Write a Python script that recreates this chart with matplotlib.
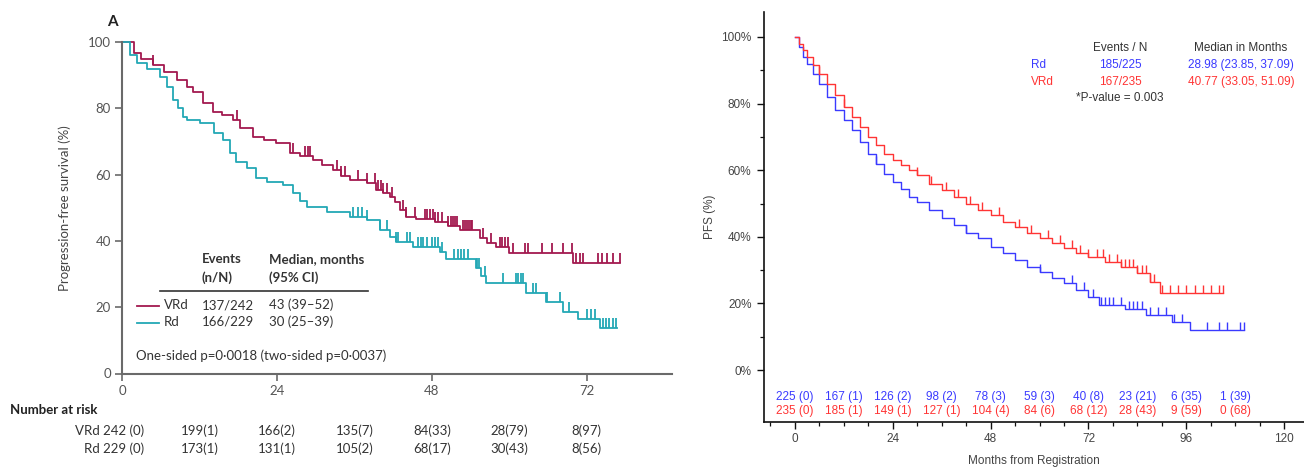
import numpy as np
import matplotlib
matplotlib.use('Agg')
import matplotlib.pyplot as plt
from matplotlib.transforms import blended_transform_factory

# ---- panel A (Lancet style): step knots (months, % event-free) ----
a_vrd_t = [0, 1.8, 3.0, 4.8, 6.5, 8.5, 10, 11, 12.6, 14.1, 15.5, 17.2, 18.3, 20.3, 22, 23.9,
           26, 27.5, 29.6, 31, 32.7, 34, 35.3, 37.9, 39.4, 40.5, 41.5, 42.3, 43, 44, 45.6,
           48.5, 50.5, 52.3, 55.4, 56.5, 58, 60, 69.8]
a_vrd_s = [100, 96.6, 95, 93.1, 91, 88.5, 86.5, 85, 81.6, 79, 78, 76.5, 74, 71.4, 70.5, 69.4,
           66.4, 65.5, 64.4, 63, 61.4, 59.5, 58.3, 57.4, 55.4, 54.5, 53.3, 51.8, 49.3, 47.3, 46.5,
           45.8, 44.5, 43.3, 40.8, 39.5, 38.3, 36.3, 33.2]
a_vrd_end = 77.2
a_vrd_cens = [4.8, 17.8, 26.5, 28.3, 28.8, 29.1, 33.3, 34, 34.5, 36.6, 37.9, 39.2, 39.6, 40.1,
              40.5, 41, 41.8, 43.5, 44, 45.4, 46.9, 47.3, 47.7, 48.1, 48.5, 48.9, 49.5, 50.5,
              50.9, 51.3, 51.6, 51.9, 52.8, 53.1, 53.4, 53.7, 54, 54.2, 55.9, 57.2, 58.5, 58.9,
              59.3, 59.8, 60.6, 62.5, 62.9, 65, 66.6, 68.3, 69.7, 70.4, 70.9, 71.4, 73.7, 74.3,
              75.1, 76, 77.1]

a_rd_t = [0, 1.2, 2.3, 3.8, 5.9, 6.9, 7.9, 8.7, 9.5, 10, 12.1, 14.2, 15.7, 16.7, 17.7, 19.3,
          20.8, 22.4, 25, 26.5, 27.5, 28.6, 31.7, 35.3, 37.9, 39.9, 41.5, 42.5, 45.1, 49.2,
          50.2, 54.9, 55.6, 56.4, 62.6, 65.7, 68.3, 70.6, 74]
a_rd_s = [100, 96, 93.6, 92, 89.5, 86.5, 82.5, 80, 77.5, 76.5, 75.5, 72.5, 70.4, 66.4, 63.9, 61.9,
          58.9, 57.9, 56.9, 54.4, 52, 50.3, 48.8, 47.3, 46.3, 43.3, 41.3, 39.8, 38.3, 36.7,
          34.4, 31.7, 29.5, 27.2, 24.2, 21.7, 18.6, 16.3, 13.6]
a_rd_end = 76.7
a_rd_cens = [35.8, 36.5, 37.2, 37.9, 39.9, 41, 42.5, 42.7, 44.1, 44.6, 45.8, 46.3, 46.7, 47.2,
             48, 48.5, 49, 49.5, 51.5, 52, 52.5, 53, 53.6, 55, 55.3, 56.2, 59, 61.1, 61.4, 61.8,
             62.1, 63.6, 64.2, 65.8, 67.8, 69.3, 72, 72.6, 73.2, 74.5, 75, 75.5, 76, 76.6]

a_risk_months = [12, 24, 36, 48, 60, 72]
a_risk_vrd = ['199(1)', '166(2)', '135(7)', '84(33)', '28(79)', '8(97)']
a_risk_rd = ['173(1)', '131(1)', '105(2)', '68(17)', '30(43)', '8(56)']

# ---- second panel: PFS by arm ----
b_rd_t = [0, 1, 2, 3, 4.5, 6, 8, 10, 12, 14, 16, 18, 20, 22, 24, 26, 28, 30, 33, 36, 39, 42,
          45, 48, 51, 54, 57, 60, 63, 66, 69, 72, 74.5, 81, 86, 92.4, 96.8]
b_rd_s = [100, 97, 94, 92, 89, 86, 82, 78, 75, 72, 68.5, 65, 62, 59, 56.5, 54.5, 52, 50.5, 48,
          45.5, 43.5, 41, 39.5, 37, 35, 33, 31, 29.5, 27.5, 26, 24, 22, 19.6, 18.3, 16.4, 14.5, 11.9]
b_rd_end = 110
b_rd_cens = [20, 42, 60, 68, 71, 73, 75, 76, 77, 78, 80, 82, 83, 84, 85, 87, 89, 91, 93, 95,
             101, 104, 106, 109, 110]

b_vrd_t = [0, 1, 2, 3, 4.5, 6, 8, 10, 12, 14, 16, 18, 20, 22, 24, 26, 28, 30, 33, 36, 39, 42,
           45, 48, 51, 54, 57, 60, 63, 66, 69, 72, 76, 80, 84, 87, 89.5]
b_vrd_s = [100, 98, 96, 94, 91.5, 89, 86, 82.5, 79, 76, 73, 70, 67.5, 65, 63, 61.5, 60, 58.5,
           56, 54, 52, 50, 48, 46.5, 44.5, 43, 41, 39.5, 38, 36.5, 35, 34, 32.5, 31, 29, 26.5, 23]
b_vrd_end = 105
b_vrd_cens = [6, 12, 30, 33.5, 37, 40, 43, 46, 50, 55, 58, 62, 65, 68, 70, 72, 74, 75.5, 77, 79,
              80, 81, 82, 83, 84, 85, 86, 87, 88, 90, 92, 94, 96, 98, 100, 102, 104, 105]

b_risk_months = [0, 12, 24, 36, 48, 60, 72, 84, 96, 108]
b_risk_rd = ['225 (0)', '167 (1)', '126 (2)', '98 (2)', '78 (3)', '59 (3)', '40 (8)',
             '23 (21)', '6 (35)', '1 (39)']
b_risk_vrd = ['235 (0)', '185 (1)', '149 (1)', '127 (1)', '104 (4)', '84 (6)', '68 (12)',
              '28 (43)', '9 (59)', '0 (68)']

W, H = 1304, 468
fig = plt.figure(figsize=(W / 100, H / 100), dpi=100)


def box(x0, y0, x1, y1):
    return [x0 / W, 1 - y1 / H, (x1 - x0) / W, (y1 - y0) / H]


def fy(y):
    return 1 - y / H


tick_up = [(0, 0), (0, 1)]


def km(ax, t, s, end, cens, color, lw, ms):
    x = list(t) + [end]
    y = list(s) + [s[-1]]
    ax.plot(x, y, drawstyle='steps-post', color=color, lw=lw, clip_on=False)
    t = np.asarray(t)
    c = np.asarray(cens)
    cy = np.asarray(s)[np.searchsorted(t, c, side='right') - 1]
    ax.plot(c, cy, ls='none', marker=tick_up, ms=ms, mew=lw, mec=color, mfc=color, clip_on=False)


# ================= panel A =================
lf = 'Lato'
grey = '#6a6a6a'
c_vrd = '#a3194f'
c_rd = '#23a8b5'

ax1 = fig.add_axes(box(122, 42, 672, 373.5))
ax1.set_xlim(0, 85.2)
ax1.set_ylim(0, 100)
km(ax1, a_vrd_t, a_vrd_s, a_vrd_end, a_vrd_cens, c_vrd, 1.3, 14)
km(ax1, a_rd_t, a_rd_s, a_rd_end, a_rd_cens, c_rd, 1.3, 14)

for sp in ['top', 'right']:
    ax1.spines[sp].set_visible(False)
for sp in ['left', 'bottom']:
    ax1.spines[sp].set_color(grey)
    ax1.spines[sp].set_linewidth(1.5)
ax1.set_xticks([0, 24, 48, 72])
ax1.set_yticks([0, 20, 40, 60, 80, 100])
ax1.tick_params(direction='out', length=5, width=1.2, color=grey, labelcolor='#555555',
                labelsize=9.5, pad=3)
for lab in ax1.get_xticklabels() + ax1.get_yticklabels():
    lab.set_family(lf)
ax1.set_ylabel('Progression-free survival (%)', family=lf, fontsize=9.5, color='#444444',
               labelpad=12)
fig.text(107 / W, fy(22), 'A', family=lf, fontsize=11, fontweight='bold', color='#222222',
         ha='left', va='center')

# legend block
t_kw = dict(family=lf, fontsize=9.5, color='#333333', va='center', ha='left')
fig.text(202 / W, fy(259), 'Events', fontweight='bold', **t_kw)
fig.text(202 / W, fy(278), '(n/N)', fontweight='bold', **t_kw)
fig.text(269 / W, fy(259), 'Median, months', fontweight='bold', **t_kw)
fig.text(269 / W, fy(278), '(95% CI)', fontweight='bold', **t_kw)
fig.add_artist(plt.Line2D([160 / W, 368 / W], [fy(291), fy(291)], color='#333333', lw=1.2))
fig.add_artist(plt.Line2D([137 / W, 159 / W], [fy(306), fy(306)], color=c_vrd, lw=1.3))
fig.add_artist(plt.Line2D([137 / W, 159 / W], [fy(323), fy(323)], color=c_rd, lw=1.3))
fig.text(164 / W, fy(305), 'VRd', **t_kw)
fig.text(164 / W, fy(322), 'Rd', **t_kw)
fig.text(202 / W, fy(305), '137/242', **t_kw)
fig.text(202 / W, fy(322), '166/229', **t_kw)
fig.text(269 / W, fy(305), '43 (39–52)', **t_kw)
fig.text(269 / W, fy(322), '30 (25–39)', **t_kw)
fig.text(136 / W, fy(356), 'One-sided p=0·0018 (two-sided p=0·0037)', **t_kw)

# number at risk
fig.text(10 / W, fy(410), 'Number at risk', family=lf, fontsize=9.5, color='#222222',
         fontweight='bold', va='center', ha='left')
r_kw = dict(family=lf, fontsize=9.5, color='#333333', va='center')
fig.text(144 / W, fy(431), 'VRd 242 (0)', ha='right', **r_kw)
fig.text(144 / W, fy(449), 'Rd 229 (0)', ha='right', **r_kw)
tr1 = blended_transform_factory(ax1.transData, fig.transFigure)
for m, v, r in zip(a_risk_months, a_risk_vrd, a_risk_rd):
    ax1.text(m, fy(431), v, transform=tr1, ha='center', **r_kw)
    ax1.text(m, fy(449), r, transform=tr1, ha='center', **r_kw)

# ================= second panel =================
rf = 'Liberation Sans'
c_blue = '#3a3aff'
c_red = '#ff3434'

ax2 = fig.add_axes(box(764, 12, 1304, 422))
ax2.set_xlim(-7.5, 124.8)
ax2.set_ylim(-15.6, 107.5)
km(ax2, b_rd_t, b_rd_s, b_rd_end, b_rd_cens, c_blue, 1.0, 11)
km(ax2, b_vrd_t, b_vrd_s, b_vrd_end, b_vrd_cens, c_red, 1.0, 11)

for sp in ['top', 'right']:
    ax2.spines[sp].set_visible(False)
for sp in ['left', 'bottom']:
    ax2.spines[sp].set_color('#111111')
    ax2.spines[sp].set_linewidth(1.2)
ax2.set_xticks([0, 24, 48, 72, 96, 120])
ax2.set_xticks(np.arange(-6, 124, 6), minor=True)
ax2.set_yticks([0, 20, 40, 60, 80, 100])
ax2.set_yticklabels(['0%', '20%', '40%', '60%', '80%', '100%'])
ax2.set_yticks(np.arange(10, 101, 20), minor=True)
ax2.tick_params(which='major', direction='out', length=5, width=1.0, color='#111111',
                labelcolor='#444444', labelsize=8.5, pad=4)
ax2.tick_params(which='minor', direction='out', length=3, width=0.9, color='#111111')
ax2.tick_params(axis='x', which='major', pad=3)
for lab in ax2.get_xticklabels() + ax2.get_yticklabels():
    lab.set_family(rf)
ax2.set_xlabel('Months from Registration', family=rf, fontsize=8.5, color='#444444',
               labelpad=7)
ax2.set_ylabel('PFS (%)', family=rf, fontsize=8.5, color='#444444', labelpad=4)

for m, a, b in zip(b_risk_months, b_risk_rd, b_risk_vrd):
    ax2.text(m, -8.0, a, color=c_blue, family=rf, fontsize=8.5, ha='center', va='center')
    ax2.text(m, -12.3, b, color=c_red, family=rf, fontsize=8.5, ha='center', va='center')

l_kw = dict(family=rf, fontsize=8.5, va='center')
fig.text(1120 / W, fy(48), 'Events / N', color='#333333', ha='center', **l_kw)
fig.text(1241 / W, fy(48), 'Median in Months', color='#333333', ha='center', **l_kw)
fig.text(1031 / W, fy(65), 'Rd', color=c_blue, ha='left', **l_kw)
fig.text(1120 / W, fy(65), '185/225', color=c_blue, ha='center', **l_kw)
fig.text(1241 / W, fy(65), '28.98 (23.85, 37.09)', color=c_blue, ha='center', **l_kw)
fig.text(1031 / W, fy(82), 'VRd', color=c_red, ha='left', **l_kw)
fig.text(1120 / W, fy(82), '167/235', color=c_red, ha='center', **l_kw)
fig.text(1241 / W, fy(82), '40.77 (33.05, 51.09)', color=c_red, ha='center', **l_kw)
fig.text(1120 / W, fy(98), '*P-value = 0.003', color='#333333', ha='center', **l_kw)

fig.savefig('out.png', dpi=100)
